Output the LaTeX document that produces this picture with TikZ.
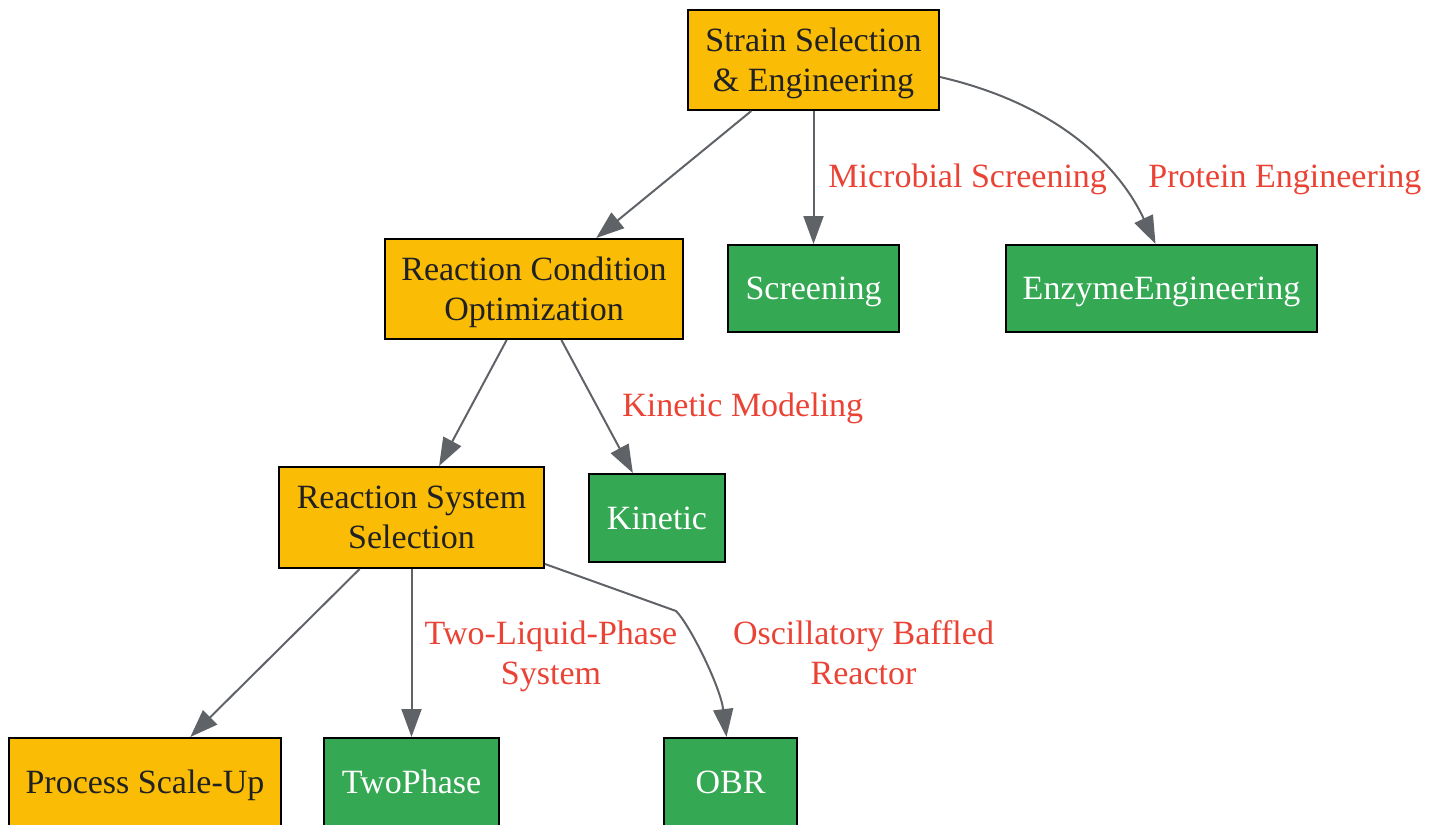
\documentclass[tikz,border=0pt]{standalone}
\usepackage{fontspec}
\setmainfont{Liberation Serif}
\usetikzlibrary{arrows.meta,calc}
\definecolor{gyellow}{HTML}{FBBC05}
\definecolor{ggreen}{HTML}{34A853}
\definecolor{gedge}{HTML}{5F6368}
\definecolor{glabel}{HTML}{EA4335}
\definecolor{gtext}{HTML}{202124}
\begin{document}
\begin{tikzpicture}[x=0.5pt,y=-0.5pt,
 box/.style={draw=black,line width=1pt,inner sep=0pt,align=center,text depth=0pt,font=\fontsize{17}{20}\selectfont},
 stagebox/.style={box,fill=gyellow,text=gtext},
 techbox/.style={box,fill=ggreen,text=white},
 edge/.style={draw=gedge,line width=1pt,-{Triangle[length=14pt,width=10pt]}},
 elabel/.style={text=glabel,inner sep=0pt,align=center,text depth=0pt,font=\fontsize{17}{20}\selectfont}]
\useasboundingbox (0,0) rectangle (1439,824);
% stages
\node[stagebox,minimum width=125.5pt,minimum height=50pt] (strain) at (813.5,60) {Strain Selection\\\& Engineering};
\node[stagebox,minimum width=149pt,minimum height=50pt] (rco) at (534,289) {Reaction Condition\\Optimization};
\node[stagebox,minimum width=132.5pt,minimum height=50.5pt] (rss) at (411.5,517.5) {Reaction System\\Selection};
\node[stagebox,minimum width=136pt,minimum height=44pt] (scale) at (145,782) {Process Scale-Up};
% techniques
\node[techbox,minimum width=85.5pt,minimum height=43.5pt] (screen) at (813.5,288.5) {Screening};
\node[techbox,minimum width=155.5pt,minimum height=43.5pt] (enzyme) at (1161.5,288.5) {EnzymeEngineering};
\node[techbox,minimum width=68pt,minimum height=44pt] (kinetic) at (657,518) {Kinetic};
\node[techbox,minimum width=87.5pt,minimum height=44pt] (twophase) at (411.5,782) {TwoPhase};
\node[techbox,minimum width=66.5pt,minimum height=44pt] (obr) at (730.5,782) {OBR};
% edges
\draw[edge] (strain) -- (rco);
\draw[edge] (strain) -- (screen);
\draw[edge] ([yshift=-8.5pt]strain.east) .. controls +(121,28) and +(-35,-75) .. ([xshift=-3pt]enzyme.north);
\draw[edge] (rco) -- (rss);
\draw[edge] (rco) -- (kinetic);
\draw[edge] (rss) -- (scale);
\draw[edge] (rss) -- (twophase);
\draw[edge] ([yshift=-23.25pt]rss.east) -- ++(131,47) .. controls +(14,14) and +(-6,-50) .. ([xshift=-2pt]obr.north);
% edge labels
\node[elabel,anchor=base west] (lmicro) at (828,187) {Microbial Screening};
\node[elabel,anchor=base west] (lprot) at (1148,187) {Protein Engineering};
\node[elabel,anchor=base west] (lkin) at (622,416) {Kinetic Modeling};
\node[elabel] (ltwo) at (551,653) {Two-Liquid-Phase\\System};
\node[elabel] (lobr) at (863.5,653) {Oscillatory Baffled\\Reactor};
\end{tikzpicture}
\end{document}
